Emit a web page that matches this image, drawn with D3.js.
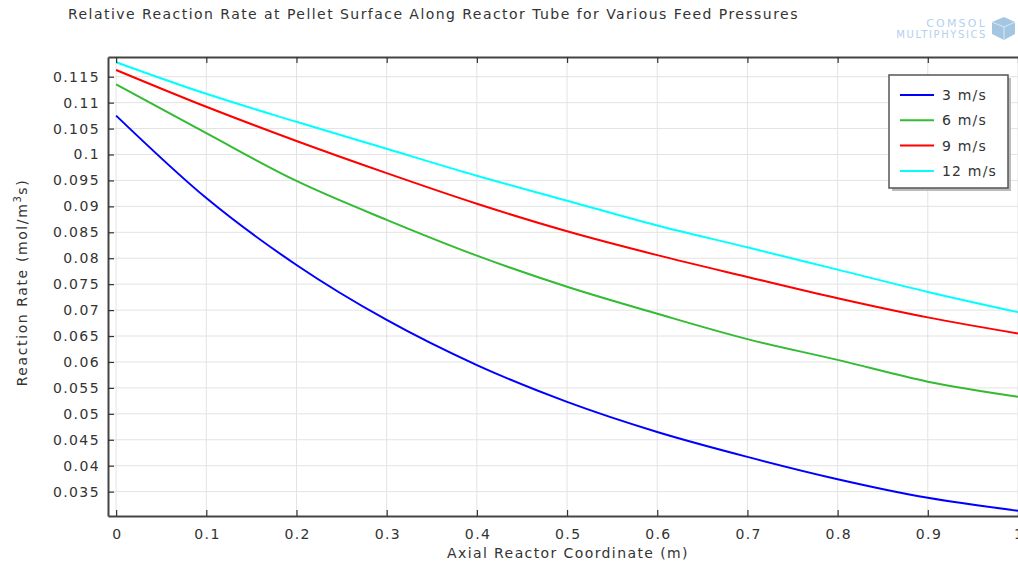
<!DOCTYPE html>
<html lang="en">
<head>
  <meta charset="UTF-8">
  <title>Relative Reaction Rate</title>
  <script src="https://d3js.org/d3.v7.min.js"></script>
  <style>
  body { margin: 0; background: #fff; }
  text { font-family: "DejaVu Sans", sans-serif; fill: #333; letter-spacing: 1.4px; }
  </style>
</head>
<body>
<div id="chart"></div>
<script>
// axial coordinate samples (m)
const xs = [0, 0.1, 0.2, 0.3, 0.4, 0.5, 0.6, 0.7, 0.8, 0.9, 1.0];

const seriesNames = ["3 m/s", "6 m/s", "9 m/s", "12 m/s"];
const seriesColors = ["#0000ff", "#33bb33", "#ff0000", "#00ffff"];

const rate3 = [0.1075, 0.0916, 0.0787, 0.0681, 0.0594, 0.0523, 0.0465, 0.0417, 0.0374, 0.0338, 0.0313];
const rate6 = [0.1135, 0.1041, 0.0949, 0.0874, 0.0805, 0.0745, 0.0693, 0.0644, 0.0604, 0.0562, 0.0533];
const rate9 = [0.1163, 0.1092, 0.1026, 0.0964, 0.0905, 0.0852, 0.0806, 0.0764, 0.0723, 0.0686, 0.0655];
const rate12 = [0.1178, 0.1117, 0.1063, 0.1011, 0.0959, 0.0911, 0.0863, 0.0821, 0.0778, 0.0735, 0.0696];

const xTicks = [0, 0.1, 0.2, 0.3, 0.4, 0.5, 0.6, 0.7, 0.8, 0.9, 1];
const yTicks = [0.035, 0.04, 0.045, 0.05, 0.055, 0.06, 0.065, 0.07, 0.075, 0.08, 0.085, 0.09, 0.095, 0.1, 0.105, 0.11, 0.115];

const W = 1018, H = 564;
const plot = {left: 108, right: 1018, top: 57, bottom: 516};

const svg = d3.select("#chart").append("svg")
  .attr("width", W)
  .attr("height", H);

const x = d3.scaleLinear().domain([-0.009, 1.0]).range([plot.left, plot.right]);
const y = d3.scaleLinear().domain([0.0303, 0.1188]).range([plot.bottom, plot.top]);

// grid
const grid = svg.append("g");
grid.selectAll(".gx").data(xTicks).enter().append("line")
  .attr("x1", d => x(d)).attr("x2", d => x(d))
  .attr("y1", plot.top).attr("y2", plot.bottom)
  .attr("stroke", "#e3e3e3").attr("stroke-width", 1);
grid.selectAll(".gy").data(yTicks).enter().append("line")
  .attr("x1", plot.left).attr("x2", plot.right)
  .attr("y1", d => y(d)).attr("y2", d => y(d))
  .attr("stroke", "#e3e3e3").attr("stroke-width", 1);

// curves
const allSeries = [rate3, rate6, rate9, rate12];
const line = d3.line()
  .x((d, i) => x(xs[i]))
  .y(d => y(d))
  .curve(d3.curveMonotoneX);

svg.append("g").selectAll("path").data(allSeries).enter().append("path")
  .attr("d", d => line(d))
  .attr("fill", "none")
  .attr("stroke", (d, i) => seriesColors[i])
  .attr("stroke-width", 2);

// axes (inward ticks on all sides)
const fmt = d => String(d);
const axB = svg.append("g").attr("transform", `translate(0,${plot.bottom})`)
  .call(d3.axisBottom(x).tickValues(xTicks).tickFormat(fmt).tickSizeInner(-6).tickSizeOuter(0).tickPadding(13));
const axT = svg.append("g").attr("transform", `translate(0,${plot.top})`)
  .call(d3.axisTop(x).tickValues(xTicks).tickFormat("").tickSizeInner(-6).tickSizeOuter(0));
const axL = svg.append("g").attr("transform", `translate(${plot.left},0)`)
  .call(d3.axisLeft(y).tickValues(yTicks).tickFormat(fmt).tickSizeInner(-6).tickSizeOuter(0).tickPadding(8));

[axB, axT, axL].forEach(a => {
  a.select(".domain").attr("stroke", "#444").attr("stroke-width", 2);
  a.selectAll(".tick line").attr("stroke", "#333").attr("stroke-width", 1.2);
  a.selectAll("text").style("font-size", "14px").attr("fill", "#333");
});
axB.selectAll("text").attr("dx", "0.7px");

// titles
svg.append("text").attr("x", 68).attr("y", 19)
  .style("font-size", "14px").style("letter-spacing", "1.45px")
  .text("Relative Reaction Rate at Pellet Surface Along Reactor Tube for Various Feed Pressures");

svg.append("text").attr("x", (plot.left + plot.right) / 2 + 5).attr("y", 558)
  .attr("text-anchor", "middle").style("font-size", "14px")
  .text("Axial Reactor Coordinate (m)");

const yl = svg.append("text")
  .attr("transform", `translate(27,${(plot.top + plot.bottom) / 2 - 4}) rotate(-90)`)
  .attr("text-anchor", "middle").style("font-size", "14px").style("letter-spacing", "1.6px");
yl.append("tspan").text("Reaction Rate (mol/m");
yl.append("tspan").attr("dy", -6).style("font-size", "10px").text("3");
yl.append("tspan").attr("dy", 6).text("s)");

// legend
const lg = svg.append("g").attr("transform", "translate(889,75)");
lg.append("rect").attr("x", 3).attr("y", 3).attr("width", 119).attr("height", 113).attr("fill", "#bbb");
lg.append("rect").attr("width", 119).attr("height", 113).attr("fill", "#fff")
  .attr("stroke", "#555").attr("stroke-width", 1.5);
const rows = lg.selectAll(".row").data(seriesNames).enter().append("g")
  .attr("transform", (d, i) => `translate(0,${20 + i * 25.3})`);
rows.append("line").attr("x1", 11).attr("x2", 45).attr("y1", 0).attr("y2", 0)
  .attr("stroke", (d, i) => seriesColors[i]).attr("stroke-width", 2);
rows.append("text").attr("x", 53).attr("y", 5).style("font-size", "14px").style("letter-spacing", "1.2px").text(d => d);

// watermark logo
const logo = svg.append("g");
logo.append("text").attr("x", 987).attr("y", 27).attr("text-anchor", "end")
  .style("font-size", "11px").style("letter-spacing", "2.2px").style("fill", "#b3d0ee")
  .text("COMSOL");
logo.append("text").attr("x", 987).attr("y", 38).attr("text-anchor", "end")
  .style("font-size", "10px").style("letter-spacing", "1.6px").style("fill", "#b3d0ee")
  .text("MULTIPHYSICS");
logo.append("path")
  .attr("d", "M992,22 L1004,17 L1015,22 L1015,34 L1004,40 L992,34 Z")
  .attr("fill", "#8fb8dc").attr("opacity", 0.8);
logo.append("path")
  .attr("d", "M992,22 L1004,27 L1015,22 M1004,27 L1004,40")
  .attr("fill", "none").attr("stroke", "#d8e8f6").attr("stroke-width", 1);
</script>
</body>
</html>
